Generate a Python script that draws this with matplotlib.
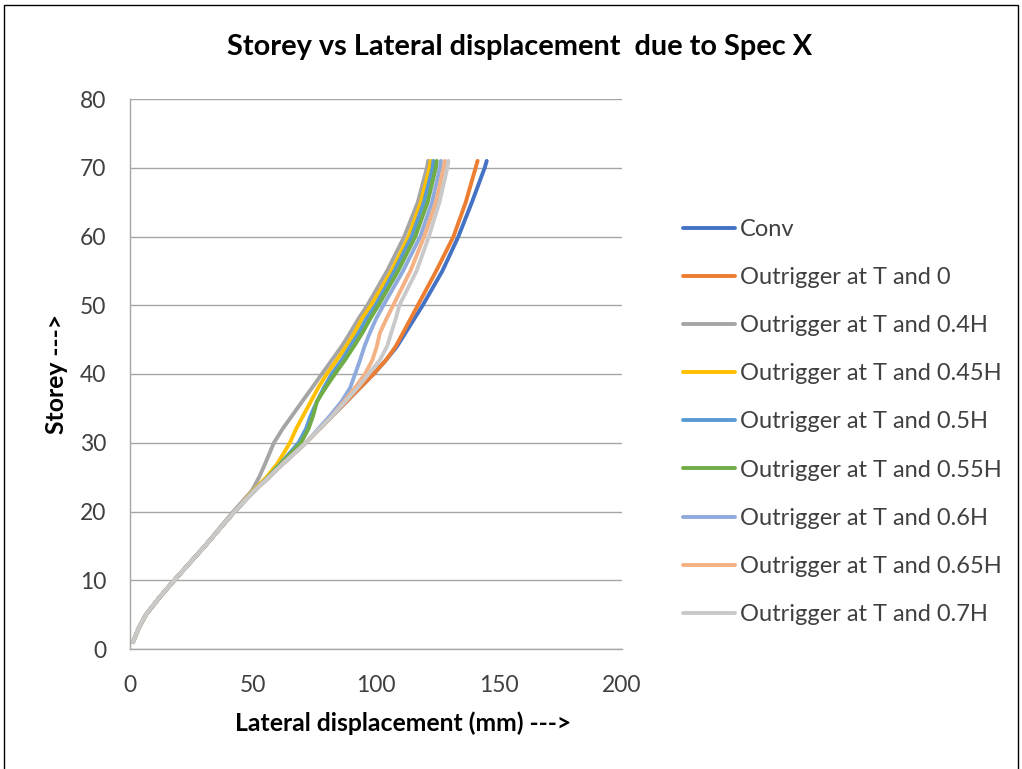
import matplotlib
matplotlib.use("Agg")
import matplotlib.pyplot as plt
from matplotlib.patches import Rectangle

plt.rcParams['font.family'] = ['Lato', 'DejaVu Sans']

# Data
storey = [1, 3, 5, 7.5, 10, 15, 20, 23, 25, 27, 30, 32, 34, 36, 38, 40, 42, 44, 46, 48, 50, 55, 60, 65, 70, 71]

conv = [1.2, 3.5, 6.5, 12, 18, 30.5, 42.5, 50.5, 56.5, 62.3, 71.5, 77, 82.5, 88, 93.5, 99, 104, 108.5, 112, 115.5, 119, 127, 133.5, 139, 144.2, 145]
out_0 = [1.2, 3.5, 6.5, 12, 18, 30.5, 42.5, 50.5, 56.5, 62.3, 71.5, 77, 82.5, 88, 93.5, 99, 104, 108, 111, 114, 117, 124.5, 131.5, 136.5, 140.5, 141.3]
out_040 = [1.2, 3.5, 6.5, 12, 18, 30.5, 42, 49.5, 52.5, 55, 58.5, 62, 66, 70, 74, 78, 82, 86, 89.5, 92.8, 96.5, 104.5, 111.5, 117, 120.7, 121.2]
out_045 = [1.2, 3.5, 6.5, 12, 18, 30.5, 42.5, 50, 55.5, 60, 65, 67.5, 70.5, 73.5, 76.5, 80, 84, 87.8, 91.3, 94.2, 98, 106.3, 113.3, 118.2, 121.8, 122.2]
out_050 = [1.2, 3.5, 6.5, 12, 18, 30.5, 42.5, 50.5, 56.2, 61.3, 68.5, 71.5, 73.5, 76, 78.8, 82, 86, 89.5, 93, 96, 99.8, 107.5, 114.5, 119.5, 123, 123.3]
out_055 = [1.2, 3.5, 6.5, 12, 18, 30.5, 42.5, 50.5, 56.2, 61.5, 69.5, 72.5, 74.5, 76, 79.5, 83.3, 87.3, 91, 94.5, 97.6, 101, 109, 116, 121, 124.3, 124.7]
out_060 = [1.2, 3.5, 6.5, 12, 18, 30.5, 42.5, 50.5, 56.5, 62.3, 71.5, 76.5, 81.5, 86, 89.5, 91.5, 93.5, 95.3, 97.5, 100, 103, 111, 118, 122.8, 126, 126.4]
out_065 = [1.2, 3.5, 6.5, 12, 18, 30.5, 42.5, 50.5, 56.5, 62.3, 71.5, 77, 82.5, 87, 91.5, 95.5, 98.5, 100.3, 101.6, 104.2, 107, 114, 119.6, 124.4, 127.5, 128]
out_070 = [1.2, 3.5, 6.5, 12, 18, 30.5, 42.5, 50.5, 56.5, 62.3, 71.5, 77, 82.5, 87.5, 92.5, 97, 101.5, 104.5, 106.2, 108, 109.5, 116.5, 121.5, 125.8, 129, 129.4]

labels = ['Conv', 'Outrigger at T and 0', 'Outrigger at T and 0.4H',
          'Outrigger at T and 0.45H', 'Outrigger at T and 0.5H',
          'Outrigger at T and 0.55H', 'Outrigger at T and 0.6H',
          'Outrigger at T and 0.65H', 'Outrigger at T and 0.7H']
series = [conv, out_0, out_040, out_045, out_050, out_055, out_060, out_065, out_070]
colors = ['#4472C4', '#ED7D31', '#A5A5A5', '#FFC000', '#5B9BD5',
          '#70AD47', '#8FAADC', '#F4B183', '#C9C9C9']

fig = plt.figure(figsize=(10.22, 7.69), dpi=100)
ax = fig.add_axes([130 / 1022, 1 - 649 / 769, 492 / 1022, 550 / 769])

for vals, lab, c in zip(series, labels, colors):
    ax.plot(vals, storey, color=c, lw=2.8, label=lab,
            solid_capstyle='round', solid_joinstyle='round')

ax.set_xlim(0, 200)
ax.set_ylim(0, 80)
ax.set_xticks(range(0, 201, 50))
ax.set_yticks(range(0, 81, 10))
ax.grid(axis='y', color='#A6A6A6', lw=1.0)
ax.set_axisbelow(True)
for s in ['top', 'right']:
    ax.spines[s].set_visible(False)
for s in ['left', 'bottom']:
    ax.spines[s].set_color('#A6A6A6')
    ax.spines[s].set_linewidth(1.0)
ax.tick_params(axis='both', length=0, labelsize=16.5, colors='#404040')
ax.tick_params(axis='y', pad=17)
ax.tick_params(axis='x', pad=19)

fig.text(520 / 1022, 1 - 47 / 769, 'Storey vs Lateral displacement  due to Spec X',
         ha='center', va='center', fontsize=20.8, fontweight='bold', color='#000000')
fig.text(403 / 1022, 1 - 723 / 769, 'Lateral displacement (mm) --->',
         ha='center', va='center', fontsize=17.8, fontweight='bold', color='#000000')
fig.text(57 / 1022, 1 - 374 / 769, 'Storey --->', rotation=90,
         ha='center', va='center', fontsize=17.8, fontweight='bold', color='#000000')

fig.legend(loc='center left', bbox_to_anchor=(683 / 1022, 1 - 422 / 769),
           frameon=False, fontsize=17, handlelength=2.2, handletextpad=0.2,
           labelspacing=1.15, borderpad=0, borderaxespad=0,
           labelcolor='#404040')

# chart border
fig.patches.append(Rectangle((4 / 1022, -0.01), 1014 / 1022, 1 - 5 / 769 + 0.01,
                             transform=fig.transFigure, fill=False,
                             edgecolor='#000000', lw=1.0))

fig.savefig('out.png', dpi=100)
